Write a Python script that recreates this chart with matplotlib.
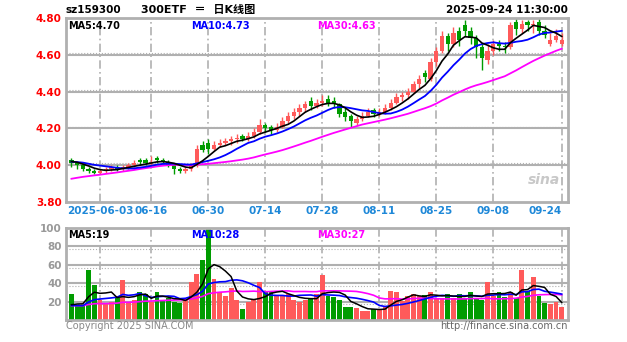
import matplotlib
matplotlib.use("Agg")
import matplotlib.pyplot as plt
import numpy as np

plt.rcParams['font.family'] = ['DejaVu Sans', 'Noto Sans CJK SC']

# daily candles 2025-05-26 .. 2025-09-24
open_ = [4.03, 4.01, 4.00, 3.98, 3.97, 3.96, 3.97, 3.98, 3.99, 3.98,
         3.99, 4.00, 4.03, 4.03, 4.01, 4.04, 4.03, 4.02, 4.00, 3.98,
         3.97, 3.98, 4.00, 4.11, 4.12, 4.09, 4.11, 4.12, 4.13, 4.14,
         4.16, 4.14, 4.16, 4.18, 4.22, 4.21, 4.19, 4.21, 4.24, 4.27,
         4.29, 4.31, 4.35, 4.32, 4.34, 4.36, 4.35, 4.33, 4.29, 4.27,
         4.23, 4.25, 4.27, 4.30, 4.28, 4.29, 4.31, 4.34, 4.37, 4.38,
         4.40, 4.44, 4.50, 4.47, 4.56, 4.62, 4.70, 4.66, 4.73, 4.76,
         4.73, 4.69, 4.64, 4.57, 4.62, 4.66, 4.65, 4.64, 4.78, 4.74,
         4.78, 4.76, 4.78, 4.73, 4.66, 4.68, 4.66]
high = [4.04, 4.02, 4.01, 3.99, 3.98, 3.98, 3.99, 4.00, 4.00, 4.00,
        4.01, 4.03, 4.04, 4.04, 4.05, 4.05, 4.04, 4.03, 4.01, 3.99,
        3.99, 4.01, 4.11, 4.13, 4.14, 4.13, 4.14, 4.15, 4.16, 4.17,
        4.17, 4.18, 4.20, 4.25, 4.23, 4.22, 4.23, 4.26, 4.29, 4.31,
        4.33, 4.35, 4.37, 4.36, 4.38, 4.38, 4.37, 4.34, 4.31, 4.28,
        4.27, 4.29, 4.31, 4.31, 4.31, 4.33, 4.36, 4.39, 4.40, 4.42,
        4.46, 4.49, 4.52, 4.58, 4.64, 4.73, 4.72, 4.75, 4.75, 4.79,
        4.75, 4.71, 4.66, 4.66, 4.68, 4.68, 4.67, 4.78, 4.80, 4.79,
        4.79, 4.79, 4.80, 4.76, 4.72, 4.74, 4.72]
low = [3.99, 3.98, 3.97, 3.96, 3.95, 3.95, 3.96, 3.97, 3.97, 3.97,
       3.98, 3.99, 4.00, 4.00, 4.00, 4.01, 4.01, 3.99, 3.95, 3.96,
       3.96, 3.97, 3.99, 4.07, 4.06, 4.08, 4.10, 4.11, 4.11, 4.12,
       4.13, 4.13, 4.15, 4.17, 4.18, 4.17, 4.18, 4.20, 4.23, 4.25,
       4.27, 4.29, 4.30, 4.31, 4.32, 4.32, 4.31, 4.26, 4.24, 4.21,
       4.22, 4.24, 4.26, 4.26, 4.27, 4.28, 4.30, 4.33, 4.35, 4.36,
       4.39, 4.42, 4.45, 4.46, 4.54, 4.61, 4.62, 4.64, 4.65, 4.70,
       4.66, 4.58, 4.52, 4.55, 4.60, 4.62, 4.61, 4.63, 4.71, 4.72,
       4.73, 4.72, 4.71, 4.69, 4.65, 4.67, 4.65]
close = [4.01, 4.00, 3.98, 3.97, 3.96, 3.97, 3.98, 3.99, 3.98, 3.99,
         4.00, 4.01, 4.02, 4.01, 4.02, 4.03, 4.02, 4.00, 3.98, 3.97,
         3.98, 4.00, 4.09, 4.08, 4.09, 4.11, 4.12, 4.13, 4.14, 4.15,
         4.14, 4.16, 4.18, 4.22, 4.20, 4.19, 4.21, 4.24, 4.27, 4.29,
         4.31, 4.33, 4.32, 4.34, 4.35, 4.34, 4.33, 4.28, 4.26, 4.24,
         4.25, 4.27, 4.29, 4.28, 4.29, 4.31, 4.34, 4.37, 4.38, 4.40,
         4.44, 4.47, 4.48, 4.56, 4.62, 4.70, 4.66, 4.72, 4.68, 4.73,
         4.69, 4.64, 4.58, 4.62, 4.66, 4.65, 4.64, 4.76, 4.74, 4.77,
         4.76, 4.77, 4.73, 4.71, 4.68, 4.70, 4.68]
volume = [28, 16, 15, 54, 38, 22, 18, 20, 24, 43,
          18, 22, 30, 28, 20, 30, 22, 24, 20, 18,
          22, 41, 50, 65, 100, 45, 30, 26, 35, 22,
          12, 20, 22, 41, 32, 30, 27, 26, 28, 22,
          20, 22, 24, 28, 49, 26, 25, 22, 14, 14,
          13, 10, 10, 12, 12, 15, 32, 30, 21, 26,
          28, 26, 27, 30, 24, 24, 28, 24, 28, 24,
          30, 24, 22, 41, 26, 30, 25, 30, 24, 54,
          32, 47, 26, 18, 17, 20, 14]

# closes / volumes before the window, only used for the moving averages
prior_close = [3.84, 3.83, 3.85, 3.84, 3.86, 3.85, 3.87, 3.86, 3.85, 3.87,
               3.88, 3.86, 3.87, 3.89, 3.88, 3.90, 3.91, 3.93, 3.96, 4.00,
               4.02, 4.01, 4.03, 4.02, 4.01, 4.02, 4.03, 4.02, 4.02]
prior_vol = [14, 16, 15, 13, 17, 18, 15, 14, 16, 19, 15, 13, 14, 16, 18,
             17, 15, 14, 13, 16, 15, 17, 14, 13, 15, 12, 14, 16, 13]

tick_idx = [5, 14, 24, 34, 44, 54, 64, 74, 86]
tick_lab = ['2025-06-03', '06-16', '06-30', '07-14', '07-28',
            '08-11', '08-25', '09-08', '09-24']

RED = '#ff5a5a'
GREEN = '#009c00'
GRID = '#b0b0b0'


def ma(vals, n, k):
    v = np.convolve(np.array(vals, float), np.ones(n) / n, mode='valid')
    return v[-k:]


o = np.array(open_)
c = np.array(close)
n = len(c)
x = np.arange(n)
cols = np.where(c >= o, RED, GREEN)

fig = plt.figure(figsize=(6.27, 3.42), dpi=100)
xl = (-0.96, 87.1)

# ---- price panel
ax = fig.add_axes([66 / 627, 1 - 202 / 342, 502 / 627, 184 / 342])
ax.set_xlim(xl)
ax.set_ylim(3.80, 4.80)
for lv in [4.0, 4.2, 4.4, 4.6]:
    ax.axhline(lv, color=GRID, lw=1.5, zorder=0)
    ax.axhline(lv + 0.01, color=GRID, lw=0.8, ls=':', zorder=0)
for t in tick_idx:
    ax.axvline(t, color=GRID, lw=1.2, ls=(0, (5, 2, 1, 2)), zorder=0)

body = np.maximum(np.abs(c - o), 0.004)
ax.vlines(x, low, high, colors=cols, lw=1, zorder=2)
ax.bar(x, body, bottom=np.minimum(o, c), width=0.75, color=cols, zorder=2)

all_c = prior_close + close
m5, m10, m30 = ma(all_c, 5, n), ma(all_c, 10, n), ma(all_c, 30, n)
ax.plot(x, m30, color='#ff00ff', lw=1.3, zorder=3)
ax.plot(x, m10, color='#0000ff', lw=1.3, zorder=3)
ax.plot(x, m5, color='black', lw=1.2, zorder=3)

ax.set_yticks([3.8, 4.0, 4.2, 4.4, 4.6, 4.8])
ax.set_yticklabels(['3.80', '4.00', '4.20', '4.40', '4.60', '4.80'],
                   color='red', fontsize=7.5, fontweight='bold')
ax.set_xticks(tick_idx)
ax.set_xticklabels(tick_lab, color='#1e88d8', fontsize=7.5, fontweight='bold')
ax.get_xticklabels()[-1].set_ha('right')
ax.tick_params(length=0, pad=3)
for s in ax.spines.values():
    s.set_color(GRID)
    s.set_linewidth(2)

ax.text(0.004, 0.985, 'MA5:%.2f' % m5[-1], transform=ax.transAxes,
        fontsize=7, fontweight='bold', va='top', color='black')
ax.text(0.25, 0.985, 'MA10:%.2f' % m10[-1], transform=ax.transAxes,
        fontsize=7, fontweight='bold', va='top', color='#0000ff')
ax.text(0.50, 0.985, 'MA30:%.2f' % m30[-1], transform=ax.transAxes,
        fontsize=7, fontweight='bold', va='top', color='#ff00ff')
ax.text(0.985, 0.1, 'sina', transform=ax.transAxes, fontsize=10,
        fontweight='bold', style='italic', color='#c8c8c8', ha='right')

fig.text(65 / 627, 1 - 10 / 342, 'sz159300', fontsize=7.5,
         fontweight='bold', va='center')
fig.text(141 / 627, 1 - 10 / 342, '300ETF  ＝  日K线图', fontsize=8,
         fontweight='bold', va='center')
fig.text(568 / 627, 1 - 10 / 342, '2025-09-24 11:30:00', fontsize=7.5,
         fontweight='bold', va='center', ha='right')

# ---- volume panel
av = fig.add_axes([66 / 627, 1 - 320 / 342, 502 / 627, 92 / 342])
av.set_xlim(xl)
av.set_ylim(0, 100)
for lv in [20, 40, 60, 80]:
    av.axhline(lv, color=GRID, lw=1.5, zorder=0)
    av.axhline(lv - 3, color=GRID, lw=0.8, ls=':', zorder=0)
for t in tick_idx:
    av.axvline(t, color=GRID, lw=1.2, ls=(0, (5, 2, 1, 2)), zorder=0)
av.bar(x, volume, width=0.85, color=cols, zorder=2)

all_v = prior_vol + volume
v5, v10, v30 = ma(all_v, 5, n), ma(all_v, 10, n), ma(all_v, 30, n)
av.plot(x, v30, color='#ff00ff', lw=1.2, zorder=3)
av.plot(x, v10, color='#0000ff', lw=1.2, zorder=3)
av.plot(x, v5, color='black', lw=1.1, zorder=3)

av.set_yticks([20, 40, 60, 80, 100])
av.set_yticklabels(['20', '40', '60', '80', '100'], color='#999999',
                   fontsize=7.5, fontweight='bold')
av.set_xticks([])
av.tick_params(length=0, pad=3)
for s in av.spines.values():
    s.set_color(GRID)
    s.set_linewidth(2)

av.text(0.004, 0.98, 'MA5:%d' % round(v5[-1]), transform=av.transAxes,
        fontsize=7, fontweight='bold', va='top', color='black')
av.text(0.25, 0.98, 'MA10:%d' % round(v10[-1]), transform=av.transAxes,
        fontsize=7, fontweight='bold', va='top', color='#0000ff')
av.text(0.50, 0.98, 'MA30:%d' % round(v30[-1]), transform=av.transAxes,
        fontsize=7, fontweight='bold', va='top', color='#ff00ff')

fig.text(66 / 627, 1 - 326 / 342, 'Copyright 2025 SINA.COM', fontsize=7,
         color='#888888', va='center')
fig.text(568 / 627, 1 - 326 / 342, 'http://finance.sina.com.cn', fontsize=7,
         color='#666666', va='center', ha='right')

fig.savefig('out.png', dpi=100)
